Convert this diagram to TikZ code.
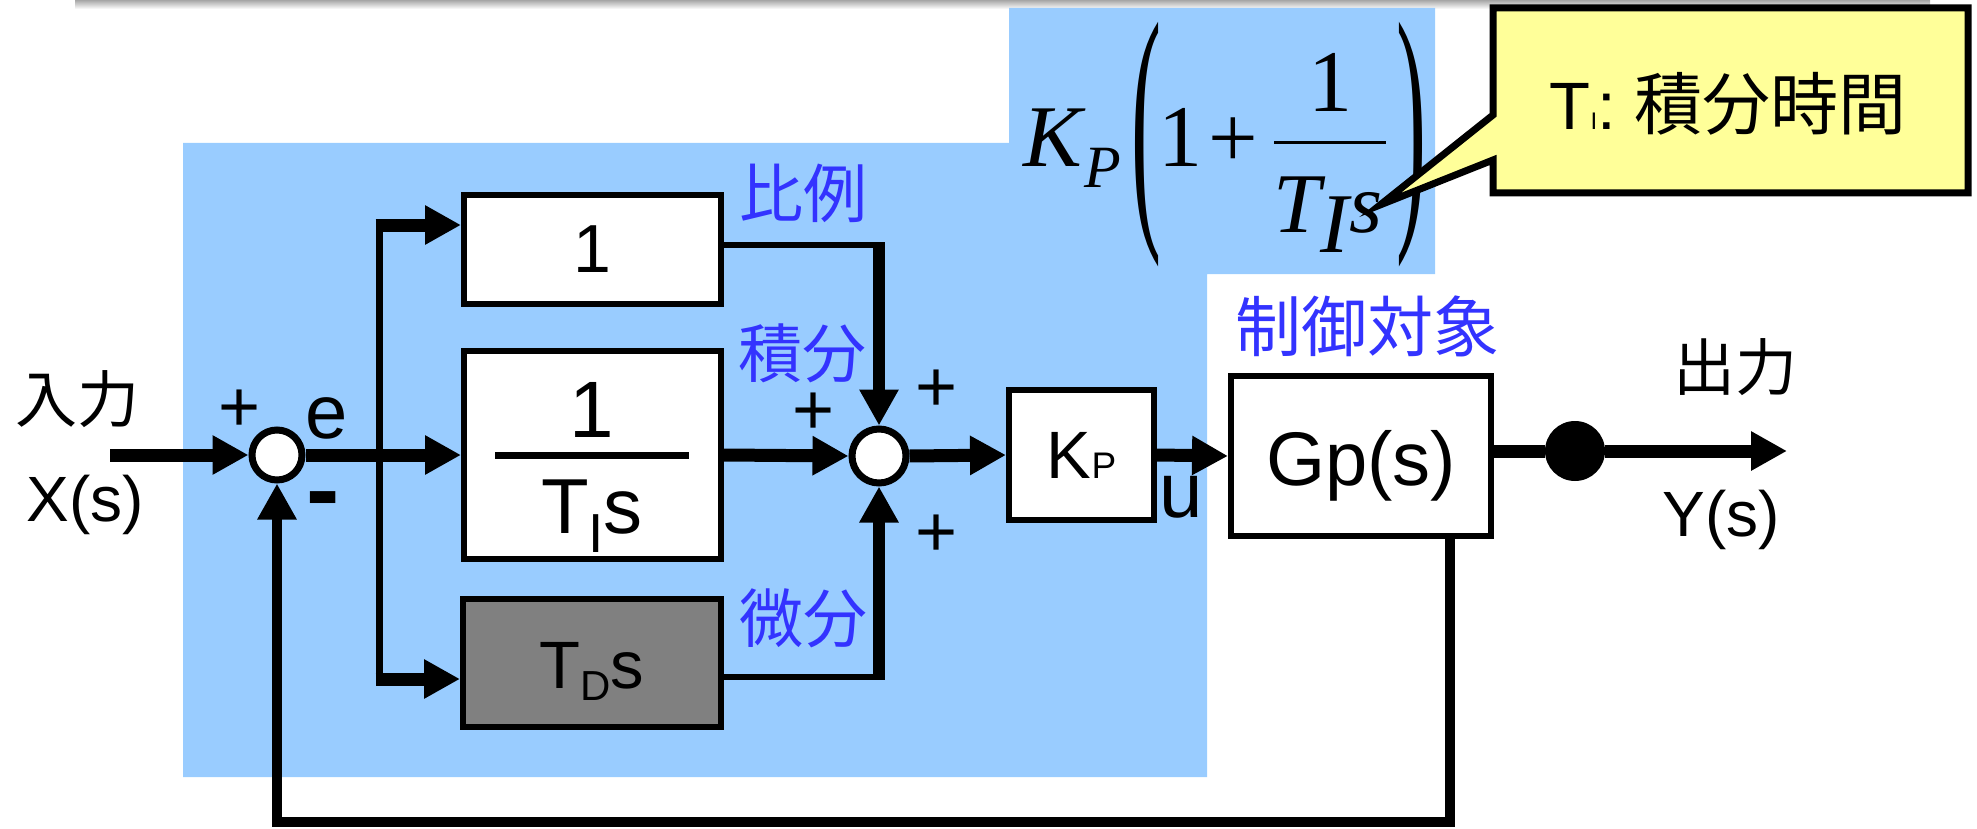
\documentclass[tikz,border=0pt]{standalone}
\usepackage{fontspec}
\setmainfont{Liberation Sans}
\newfontfamily\cjk{Noto Sans CJK JP}
\newfontfamily\tms{Liberation Serif}
\usetikzlibrary{arrows.meta}
\definecolor{bgblue}{RGB}{153,204,255}
\definecolor{lblue}{RGB}{51,51,255}
\definecolor{callyellow}{RGB}{255,255,153}
\definecolor{boxgray}{RGB}{128,128,128}
\newcommand{\fs}[1]{\fontsize{#1}{#1}\selectfont}
\begin{document}
\begin{tikzpicture}[x=1pt,y=-1pt,
  blk/.style={draw, line width=6pt, fill=white, rectangle, inner sep=0pt},
  sumc/.style={draw, line width=7pt, fill=white, circle, inner sep=0pt, minimum size=50pt},
  sig/.style={line width=13pt},
  arr/.style={-{Triangle[length=36pt,width=37pt]}},
  lbl/.style={inner sep=0pt, font=\fs{64}},
  blab/.style={inner sep=0pt, font=\cjk\fs{64}, text=lblue},
  plus/.style={inner sep=0pt, font=\fs{72}},
  fml/.style={inner sep=0pt, font=\tms\fs{88}},
]
\useasboundingbox (0,0) rectangle (1977,829);
% shadow strip at top
\shade[top color=gray!70, bottom color=white] (75,0) rectangle (1930,9);
% blue background
\fill[bgblue] (183,143) -- (1009,143) -- (1009,8) -- (1435,8) -- (1435,274) -- (1207,274) -- (1207,777) -- (183,777) -- cycle;

% blocks
\node[blk, minimum width=257pt, minimum height=109pt, font=\fs{68}] (b1) at (592.5,249.5) {1};
\node[blk, minimum width=257pt, minimum height=208pt] (b2) at (592.5,455) {};
\node[inner sep=0pt, font=\fs{80}, anchor=base] (b2n) at (592,437) {1};
\draw[line width=7pt] (495,455) -- (689,455);
\node[inner sep=0pt, font=\fs{78}, anchor=base] (b2d) at (592,533) {T\raisebox{-19pt}{\fs{55}I}s};
\node[blk, fill=boxgray, minimum width=258pt, minimum height=128pt] (b3) at (592,663) {};
\node[inner sep=0pt, font=\fs{67}, anchor=base] (b3t) at (592,688) {T\raisebox{-12pt}{\fs{42}D}s};
\node[blk, minimum width=145pt, minimum height=130pt, font=\fs{67}] (kp) at (1081.5,455) {K{\fs{37}P}};
\node[blk, minimum width=260pt, minimum height=160pt] (gp) at (1361,456) {};
\node[inner sep=0pt, font=\fs{76}, anchor=base] (gpt) at (1361,485) {Gp(s)};

% summing points
\node[sumc] (s1) at (277,455) {};
\node[sumc, minimum size=54pt] (s2) at (879,456) {};
\node[circle, fill=black, minimum size=60pt, inner sep=0pt] (dot) at (1575,451) {};

% coordinates
\coordinate (in) at (110,455);
\coordinate (br) at (379,455);
\coordinate (brT) at (379,225);
\coordinate (brB) at (379,679);
\coordinate (c1) at (879,245);
\coordinate (c3) at (879,677);
\coordinate (out) at (1787,451);
\coordinate (fbR) at (1450,822);
\coordinate (fbL) at (277,822);

% connectors
\draw[sig,arr] (in) -- (s1.west);
\draw[sig] (s1.east) -- (br);
\draw[sig,arr] (br) -- (b2.west);
\draw[line width=7pt] (brT) -- (brB);
\draw[sig,arr] ([xshift=-3.5pt]brT) -- (b1.west |- brT);
\draw[sig,arr] ([xshift=-3.5pt]brB) -- (b3.west |- brB);
\draw[line width=6pt] (b1.east |- c1) -- ([xshift=6pt]c1);
\draw[line width=12pt,arr] ([yshift=-3pt]c1) -- (s2.north);
\draw[sig,arr] (b2.east) -- (s2.west);
\draw[line width=6pt] (b3.east |- c3) -- ([xshift=6pt]c3);
\draw[line width=12pt,arr] ([yshift=3pt]c3) -- (s2.south);
\draw[sig,arr] (s2.east) -- (kp.west);
\draw[sig,arr] (kp.east) -- (gp.west);
\draw[sig] (gp.east |- dot) -- (dot);
\draw[sig,arr] (dot) -- (out);
\draw[line width=10pt,arr] (gp.south -| fbR) -- (fbR) -- (fbL) -- (s1.south);

% labels
\node[lbl, font=\cjk\fs{62}] (lin) at (78,399) {入力};
\node[lbl] (lx) at (85,505) {X(s)};
\node[plus] (p1) at (240,411) {+};
\node[lbl, font=\fs{76}] (le) at (327,418) {e};
\node[lbl, font=\bfseries\fs{100}] (lm) at (323,508) {-};
\node[blab] (l1) at (803,193) {比例};
\node[blab] (l2) at (802,353) {積分};
\node[blab] (l3) at (803,618) {微分};
\node[plus] (p2) at (814,414) {+};
\node[plus] (p3) at (937,391) {+};
\node[plus] (p4) at (937,536) {+};
\node[lbl, font=\fs{78}] (lu) at (1181,497) {u};
\node[blab, font=\cjk\fs{66}] (l4) at (1367,326) {制御対象};
\node[lbl, font=\cjk\fs{62}] (lout) at (1735,367) {出力};
\node[lbl] (ly) at (1721,520) {Y(s)};

% formula
\node[fml, font=\tms\itshape\fs{88}, anchor=base] (fK) at (1053,167) {K};
\node[fml, font=\tms\itshape\fs{60}, anchor=base] (fP) at (1103,187) {P};
\node[fml] (fL) at (1146,145) {\scalebox{1}[3]{\tms\fs{90}(}};
\node[fml] (fR) at (1411,145) {\scalebox{1}[3]{\tms\fs{90})}};
\node[fml, anchor=base] (f1) at (1180,167) {1};
\node[fml] (fplus) at (1233,143) {+};
\draw[line width=3pt] (1274,143) -- (1386,143);
\node[fml, anchor=base] (fn) at (1330,112) {1};
\node[fml, font=\tms\itshape\fs{85}, anchor=base] (fd) at (1328,233) {T\raisebox{-20pt}{I}s};

% callout
\draw[line width=7pt, fill=callyellow] (1493,8) -- (1968,8) -- (1968,193) -- (1493,193) -- (1493,160) -- (1380,205) -- (1493,115) -- cycle;
\node[inner sep=0pt, font=\fs{67}] (ct) at (1728,104) {T{\fs{24}I}: {\cjk\fs{68}積分時間}};
\end{tikzpicture}
\end{document}
